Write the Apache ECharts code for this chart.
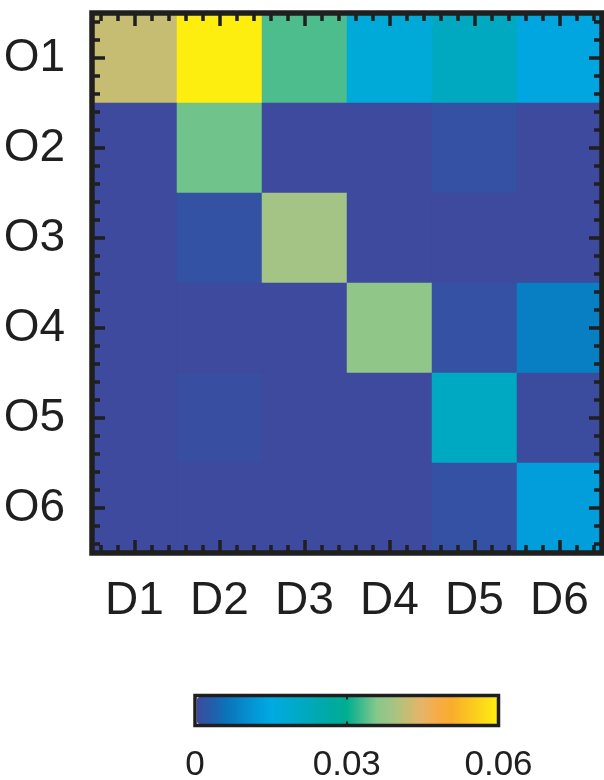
<!DOCTYPE html>
<html>
<head>
<meta charset="utf-8">
<script src="https://cdn.jsdelivr.net/npm/echarts@6/dist/echarts.min.js"></script>
<style>
html,body{margin:0;padding:0;background:#fff;}
#chart{width:604px;height:780px;}
</style>
</head>
<body>
<div id="chart"></div>
<script>
// ---- data ----
const destinations = ['D1', 'D2', 'D3', 'D4', 'D5', 'D6'];
const origins = ['O1', 'O2', 'O3', 'O4', 'O5', 'O6'];
const rowO1 = [0.042, 0.060, 0.0335, 0.017, 0.0215, 0.014];
const rowO2 = [0, 0.035, 0, 0, 0.0011, 0];
const rowO3 = [0, 0.0012, 0.039, 0, 0, 0];
const rowO4 = [0, 0, 0, 0.037, 0.0011, 0.0078];
const rowO5 = [0, 0.0006, 0, 0, 0.021, 0.0003];
const rowO6 = [0, 0, 0, 0, 0.0011, 0.0125];
const colorbarTicks = [0, 0.03, 0.06];

// ---- styling ----
const colormap = ['#3e4a9e', '#225eab', '#0a74b9', '#0787c9', '#039ad9', '#00aae3',
  '#00aad2', '#00a9c2', '#00a9b2', '#00aaa1', '#00ae90', '#43bb8d', '#86c88a',
  '#a3c485', '#c6bd72', '#e6b468', '#f7ac48', '#f9ad2c', '#fbc222', '#fcd819', '#fdee10'];
const FONT = "'Liberation Sans Narrow', 'Liberation Sans', Arial, sans-serif";
const INK = '#1f1f1f';

const rows = [rowO1, rowO2, rowO3, rowO4, rowO5, rowO6];
const cells = [];
rows.forEach((row, yi) => row.forEach((v, xi) => cells.push([xi, yi, v])));

const G = { left: 92, top: 13, width: 510, height: 540 };
const CB = { left: 195, top: 695.5, width: 303.5, height: 30 };

function tickAxis(pos, isX) {
  return {
    type: 'value', gridIndex: 0, position: pos, z: 6,
    min: -0.5, max: origins.length - 0.5, splitNumber: 6,
    inverse: !isX,
    axisLine: { show: false, onZero: false },
    axisLabel: { show: false },
    splitLine: { show: false },
    axisTick: { show: true, inside: true, length: 13, lineStyle: { color: INK, width: 3.5 } },
    minorTick: { show: true, splitNumber: 5, length: 8, lineStyle: { color: INK, width: 3.5 } },
    minorSplitLine: { show: false }
  };
}

const chart = echarts.init(document.getElementById('chart'), null, { renderer: 'canvas' });
chart.setOption({
  animation: false,
  backgroundColor: '#ffffff',
  grid: [
    Object.assign({ show: true, z: 10, borderColor: INK, borderWidth: 5.5, backgroundColor: 'transparent', containLabel: false, outerBoundsMode: 'none' }, G),
    Object.assign({ show: true, z: 10, borderColor: INK, borderWidth: 3.5, backgroundColor: 'transparent', containLabel: false, outerBoundsMode: 'none' }, CB)
  ],
  xAxis: [
    {
      type: 'category', gridIndex: 0, data: destinations, position: 'bottom',
      axisLine: { show: false, onZero: false }, axisTick: { show: false }, splitLine: { show: false },
      axisLabel: { color: INK, fontSize: 46, lineHeight: 46, fontFamily: FONT, margin: 25 }
    },
    tickAxis('bottom', true),
    tickAxis('top', true),
    {
      type: 'value', gridIndex: 1, position: 'bottom', z: 12,
      min: colorbarTicks[0], max: colorbarTicks[colorbarTicks.length - 1],
      interval: colorbarTicks[1] - colorbarTicks[0],
      axisLine: { show: false, onZero: false }, splitLine: { show: false },
      axisTick: { show: true, inside: true, length: 4, lineStyle: { color: INK, width: 2 } },
      axisLabel: { color: INK, fontSize: 35, lineHeight: 35, fontFamily: FONT, margin: 22 }
    },
    {
      type: 'value', gridIndex: 1, position: 'top', z: 12,
      min: colorbarTicks[0], max: colorbarTicks[colorbarTicks.length - 1],
      interval: colorbarTicks[1] - colorbarTicks[0],
      axisLine: { show: false, onZero: false }, splitLine: { show: false }, axisLabel: { show: false },
      axisTick: { show: true, inside: true, length: 4, lineStyle: { color: INK, width: 2 } }
    }
  ],
  yAxis: [
    {
      type: 'category', gridIndex: 0, data: origins, inverse: true, position: 'left',
      axisLine: { show: false, onZero: false }, axisTick: { show: false }, splitLine: { show: false },
      axisLabel: { color: INK, fontSize: 46, lineHeight: 46, fontFamily: FONT, margin: 27 }
    },
    tickAxis('left', false),
    tickAxis('right', false),
    { type: 'value', gridIndex: 1, show: false, min: 0, max: 1 }
  ],
  visualMap: {
    type: 'continuous', seriesIndex: 0,
    min: colorbarTicks[0], max: colorbarTicks[colorbarTicks.length - 1],
    orient: 'horizontal', left: 197, top: 697,
    itemWidth: 27, itemHeight: 300, padding: 0,
    calculable: false, hoverLink: false, text: null, showLabel: false,
    inRange: { color: colormap }
  },
  series: [{
    type: 'heatmap', xAxisIndex: 0, yAxisIndex: 0, z: 2,
    data: cells,
    itemStyle: { borderWidth: 0 },
    emphasis: { disabled: true },
    progressive: 0
  }]
});
</script>
</body>
</html>
